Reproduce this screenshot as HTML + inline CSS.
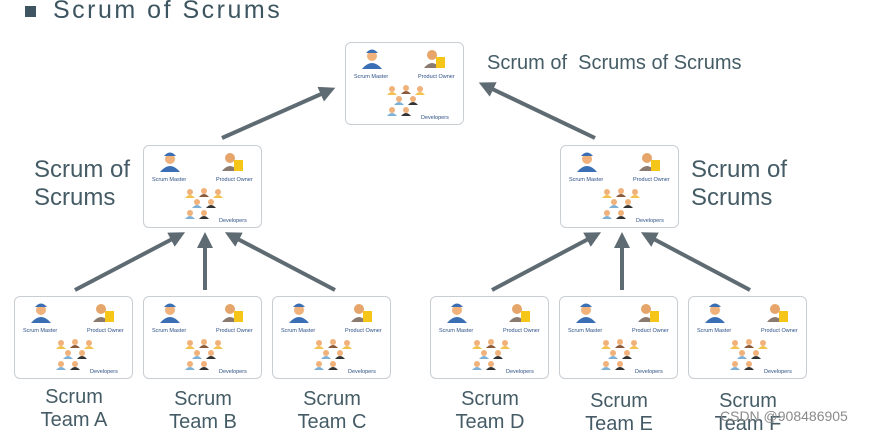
<!DOCTYPE html>
<html><head><meta charset="utf-8"><style>
body{margin:0;width:870px;height:434px;background:#fff;position:relative;overflow:hidden;font-family:"Liberation Sans",sans-serif;}
.b{position:absolute;width:119px;height:83px;border:1.5px solid #c9ced3;border-radius:6px;background:#fff;box-sizing:border-box}
.b svg{position:absolute;left:0;top:0}
.t{position:absolute;color:#455c66;font-size:20px;line-height:23px;text-align:center;width:120px}
.l{position:absolute;color:#455c66;font-size:24px;line-height:28px}
</style></head><body>
<div style="position:absolute;left:25px;top:6px;width:11px;height:11px;background:#3f5561"></div>
<div style="position:absolute;left:53px;top:-4px;font-size:25px;letter-spacing:2.5px;color:#3d5560">Scrum of Scrums</div>

<svg width="870" height="434" style="position:absolute;left:0;top:0">
<defs><marker id="a" markerWidth="4" markerHeight="4" refX="2" refY="2" orient="auto" markerUnits="strokeWidth"><path d="M0,0 L4,2 L0,4 z" fill="#5f6b72"/></marker></defs>
<g stroke="#5f6b72" stroke-width="4" marker-end="url(#a)">
<line x1="222" y1="138" x2="328" y2="91"/>
<line x1="595" y1="138" x2="486" y2="86"/>
<line x1="75" y1="290" x2="178" y2="236"/>
<line x1="205" y1="290" x2="205" y2="240"/>
<line x1="335" y1="290" x2="232" y2="236"/>
<line x1="492" y1="290" x2="594" y2="236"/>
<line x1="622" y1="290" x2="622" y2="240"/>
<line x1="750" y1="290" x2="648" y2="236"/>
</g></svg>

<div class="l" style="left:487px;top:49px;font-size:20px">Scrum of&nbsp; Scrums of Scrums</div>
<div class="l" style="left:34px;top:156px">Scrum of<br>Scrums</div>
<div class="l" style="left:691px;top:156px">Scrum of<br>Scrums</div>

<div class="t" style="left:14px;top:386px">Scrum<br>Team A</div>
<div class="t" style="left:143px;top:388px">Scrum<br>Team B</div>
<div class="t" style="left:272px;top:388px">Scrum<br>Team C</div>
<div class="t" style="left:430px;top:388px">Scrum<br>Team D</div>
<div class="t" style="left:559px;top:390px">Scrum<br>Team E</div>
<div class="t" style="left:688px;top:390px">Scrum<br>Team F</div>
<div style="position:absolute;left:720px;top:408px;font-size:14px;color:#8a8a8a">CSDN @908486905</div>

<div id="boxes"></div>
<script>
var pos=[[345,42],[143,145],[560,145],[14,296],[143,296],[272,296],[430,296],[559,296],[688,296]];
var s='<svg width="119" height="83" style="font-family:Liberation Sans,sans-serif">'+
'<circle cx="26" cy="13" r="5" fill="#f0b27a"/><path d="M20,10 q6,-7 12,0 z" fill="#3a6fb5"/><path d="M16,26 q10,-12 20,0 z" fill="#3a6fb5"/>'+
'<text x="8" y="35" font-size="5.5" fill="#2d4f86">Scrum Master</text>'+
'<circle cx="86" cy="12" r="5" fill="#e6a56a"/><path d="M78,25 q8,-10 16,0 z" fill="#8a7a70"/><rect x="90" y="14" width="9" height="11" fill="#f5c518"/>'+
'<text x="72" y="35" font-size="5.5" fill="#2d4f86">Product Owner</text>';
function d(x,y,c){return '<circle cx="'+x+'" cy="'+y+'" r="3" fill="#f0b27a"/><path d="M'+(x-5)+','+(y+6)+' q5,-6 10,0 z" fill="'+c+'"/>';}
s+=d(46,46,'#f2c14e')+d(60,45,'#8b5a3c')+d(74,46,'#f2c14e')+d(53,56,'#7fb0d6')+d(67,56,'#333')+d(46,67,'#7fb0d6')+d(60,67,'#333');
s+='<text x="75" y="76" font-size="5.5" fill="#2d4f86">Developers</text></svg>';
var h='';pos.forEach(function(p){h+='<div class="b" style="left:'+p[0]+'px;top:'+p[1]+'px">'+s+'</div>';});
document.getElementById('boxes').innerHTML=h;
</script>
</body></html>
